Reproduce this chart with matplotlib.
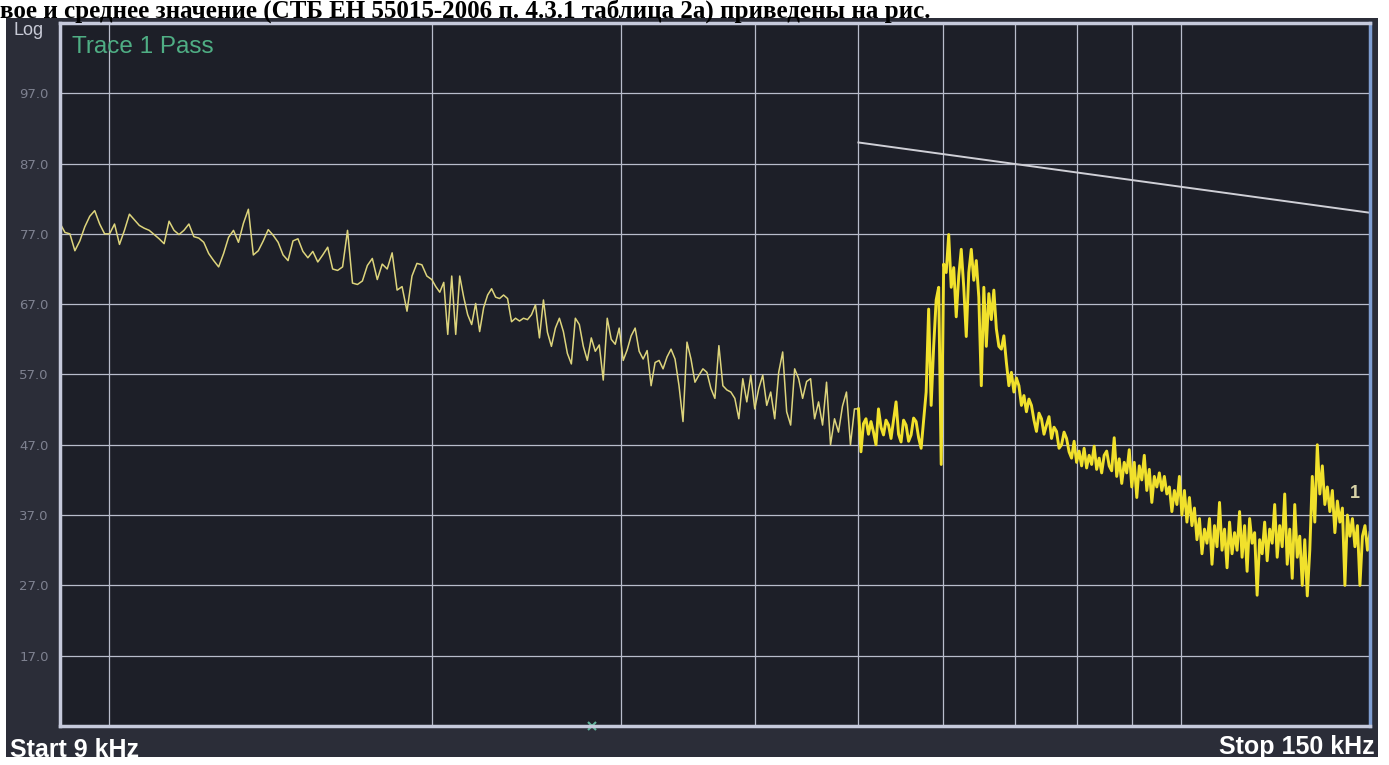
import numpy as np
import matplotlib
matplotlib.use('Agg')
import matplotlib.pyplot as plt
from matplotlib.patches import Rectangle

# trace levels, dBuV
level_a = [78.5, 77.2, 77.0, 74.6, 76.0, 78.0, 79.5, 80.3, 78.4, 77.0,
           77.0, 78.4, 75.5, 77.5, 79.8, 79.0, 78.2, 77.8, 77.5, 76.9,
           76.3, 75.6, 78.8, 77.5, 76.9, 77.5, 78.4, 76.6, 76.4, 75.8,
           74.2, 73.2, 72.3, 74.2, 76.5, 77.5, 75.8, 78.5, 80.5, 74.0,
           74.6, 76.0, 77.6, 76.8, 75.8, 74.0, 73.2, 76.0, 76.3, 74.5,
           73.6, 74.5, 73.0, 74.0, 75.1, 72.0, 71.8, 72.3, 77.5, 70.0,
           69.8, 70.3, 72.5, 73.5, 70.5, 72.7, 72.0, 74.3, 69.0, 69.5,
           66.0, 71.0, 72.8, 72.6, 71.0]

level_b = [70.5, 69.5, 68.7, 70.1, 62.7, 71.0, 62.7, 71.0, 68.0, 65.5,
           64.1, 67.1, 63.1, 66.5, 68.3, 69.2, 68.0, 67.8, 68.3, 67.8,
           64.5, 65.0, 64.6, 65.0, 64.8, 65.5, 66.9, 62.2, 67.6, 63.0,
           61.0, 63.6, 65.0, 63.1, 60.0, 58.5, 65.0, 64.1, 61.0, 59.0,
           62.2, 60.3, 61.2, 56.2, 65.0, 62.0, 61.3, 63.6, 59.0, 60.5,
           62.5, 63.6, 60.3, 59.2, 60.4, 55.4, 58.7, 59.0, 57.8, 59.5,
           60.6, 59.2, 55.4, 50.3, 61.6, 59.2, 55.9, 56.9, 57.8, 57.3,
           55.0, 53.6, 61.1, 55.4, 54.8, 54.5, 53.6, 50.7, 56.4, 53.1,
           56.9, 52.1, 55.0, 56.9, 52.6, 54.5, 50.7, 57.3, 60.2, 51.7,
           49.8, 57.8, 56.4, 53.6, 56.0, 56.4, 50.7, 53.1, 49.8, 55.9,
           47.0, 50.7, 48.8, 52.5, 54.5, 47.0, 52.1]

level_c = [52.1, 46.0, 50.0, 50.7, 48.5, 50.3, 48.8, 47.0, 52.1, 49.5,
           48.4, 50.5, 49.8, 47.9, 50.5, 53.1, 48.5, 47.4, 50.5, 49.8,
           47.5, 48.4, 50.8, 50.3, 48.0, 46.5, 50.5, 54.5, 66.3, 52.6,
           61.0, 67.6, 69.4, 44.2, 72.7, 71.5, 76.9, 69.4, 72.2, 65.2,
           71.0, 74.8, 69.4, 62.4, 71.5, 74.8, 70.4, 73.2, 68.0, 55.4,
           69.4, 61.0, 68.5, 64.8, 69.0, 63.5, 61.0, 60.6, 62.5, 58.7,
           55.4, 57.3, 54.5, 56.5, 55.4, 52.6, 54.0, 51.7, 53.5, 52.6,
           50.5, 48.9, 51.5, 50.7, 48.5, 49.8, 51.0, 47.9, 49.5, 48.9,
           46.5, 47.0, 48.8, 47.9, 46.0, 45.1, 47.5, 44.5, 46.1, 44.0,
           46.5, 43.7, 45.5, 44.2, 46.8, 43.5, 45.1, 43.0, 45.5, 46.1,
           44.0, 43.3, 48.0, 42.5, 45.0, 41.5, 44.5, 43.0, 46.3, 41.0,
           44.5, 39.5, 44.0, 42.0, 45.5, 40.5, 43.5, 38.8, 42.5, 41.0,
           43.0, 40.5, 42.5, 40.0, 41.0, 37.5, 40.5, 38.5, 42.5, 37.0,
           40.5, 36.0, 39.5, 35.5, 38.0, 33.5, 36.5, 31.5, 35.0, 33.0,
           36.5, 30.0, 35.5, 32.5, 38.8, 32.0, 35.0, 29.5, 36.0, 31.5,
           34.5, 32.0, 37.5, 31.0, 35.5, 29.0, 36.5, 33.0, 34.5, 25.6,
           33.5, 31.5, 36.0, 30.5, 35.0, 33.0, 38.5, 31.0, 35.5, 32.5,
           40.0, 30.0, 35.0, 28.0, 38.5, 31.0, 34.0, 27.0, 33.5, 25.5,
           32.0, 42.5, 36.0, 47.0, 40.0, 44.0, 38.5, 41.0, 37.5, 40.5,
           34.5, 39.0, 36.0, 38.0, 27.0, 37.0, 34.0, 36.5, 32.5, 35.5,
           27.0, 34.0, 35.5, 32.0, 34.5]

# limit line (EN 55015, 50-150 kHz)
limit_freq = [50, 150]
limit_level = [90, 80]

y_ticks = [17, 27, 37, 47, 57, 67, 77, 87, 97]
x_grid = [10, 20, 30, 40, 50, 60, 70, 80, 90, 100]
marker_freq = 28.2
marker1_freq = 145.3
marker1_level = 40.0

# sweep points: three frequency bands
freq_a = np.geomspace(9, 20, len(level_a), endpoint=False)
freq_b = np.geomspace(20, 50, len(level_b), endpoint=False)
freq_c = np.geomspace(50, 150, len(level_c))

fig = plt.figure(figsize=(13.89, 7.65), dpi=100)
fig.patch.set_facecolor('white')

# analyzer screen
fig.add_artist(Rectangle((0.004, 0.0105), 0.988, 0.9660,
                         transform=fig.transFigure, facecolor='#2b2d38',
                         edgecolor='none', zorder=0))

fig.text(0.0, 0.9775, 'вое и среднее значение (СТБ ЕН 55015-2006 п. 4.3.1 таблица 2а) приведены на рис.',
         fontsize=18, fontweight='bold', family='Liberation Serif', color='black',
         va='baseline', ha='left', zorder=5)

ax = fig.add_axes([0.0432, 0.0510, 0.9431, 0.9190])
ax.set_facecolor('#1d1f28')

ax.set_xscale('log')
ax.set_xlim(9, 150)
ax.set_ylim(7, 107)

ax.set_xticks(x_grid)
ax.set_xticks([], minor=True)
ax.set_xticklabels([])
ax.set_yticks(y_ticks)
ax.set_yticklabels(['%.1f' % v for v in y_ticks], color='#7e8190', fontsize=9.5)
ax.tick_params(axis='both', length=0, pad=8)
ax.grid(True, color='#b9bdcc', linewidth=0.9)
ax.set_axisbelow(True)

for s in ['left', 'bottom', 'top']:
    ax.spines[s].set_color('#c6cadc')
    ax.spines[s].set_linewidth(2.5)
ax.spines['right'].set_color('#7f9ed2')
ax.spines['right'].set_linewidth(2.5)

ax.plot(limit_freq, limit_level, color='#cfcfd6', linewidth=1.4)

# thin pale part at low frequencies, dense bright part above 50 kHz
ax.plot(np.concatenate([freq_a, freq_b, freq_c[:1]]),
        level_a + level_b + level_c[:1], color='#ddd47c', linewidth=1.1)
ax.plot(freq_c, level_c, color='#f1e12c', linewidth=2.1)

ax.text(marker1_freq, marker1_level, '1', color='#d9d3a8', fontsize=13,
        fontweight='bold', ha='center', va='center', family='Liberation Sans')
ax.plot([marker_freq], [7], marker='x', color='#5fb39a', markersize=6,
        markeredgewidth=1.5, clip_on=False)

ax.text(0.009, 0.966, 'Trace 1 Pass', transform=ax.transAxes, color='#4fae84',
        fontsize=17.5, va='center', ha='left', family='Liberation Sans')

fig.text(0.010, 0.960, 'Log', color='#c8cad6', fontsize=13, va='center',
         family='Liberation Sans')
fig.text(0.007, 0.0190, 'Start 9 kHz', color='white', fontsize=18,
         fontweight='bold', va='center', ha='left', family='Liberation Sans')
fig.text(0.990, 0.0230, 'Stop 150 kHz', color='white', fontsize=18,
         fontweight='bold', va='center', ha='right', family='Liberation Sans')

fig.savefig('out.png', dpi=100, facecolor=fig.get_facecolor())
